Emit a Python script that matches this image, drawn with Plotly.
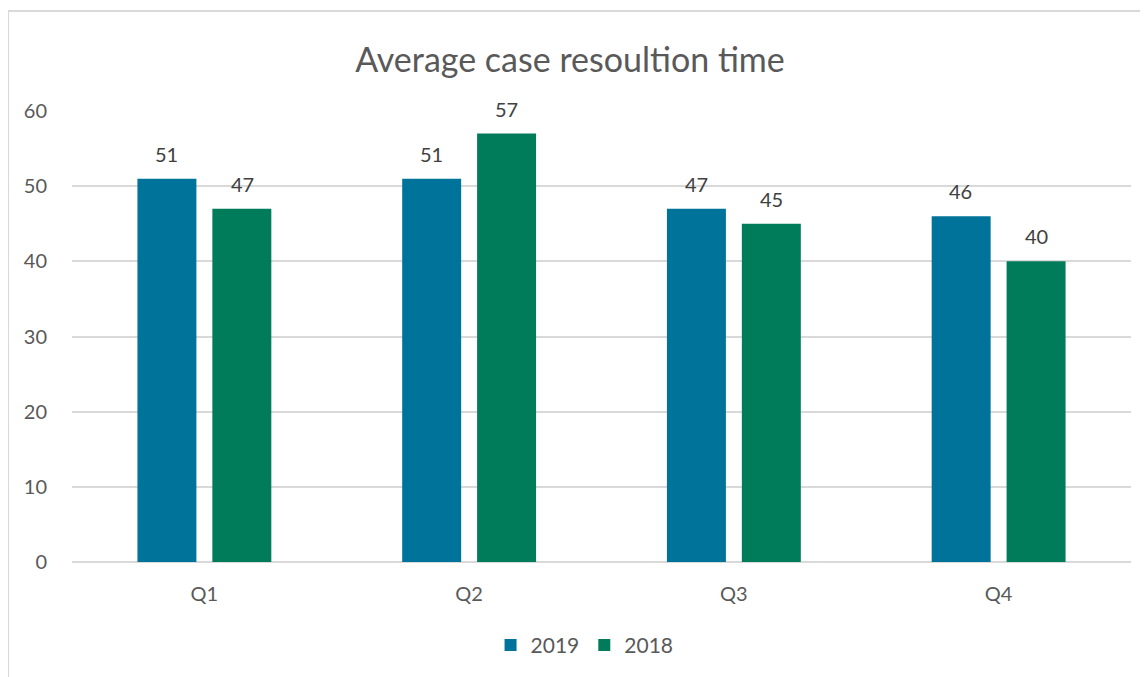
import plotly.graph_objects as go

# ─── Data ─────────────────────────────────────────────────────────────────────

QUARTERS = ["Q1", "Q2", "Q3", "Q4"]
VALUES_2019 = [51, 51, 47, 46]
VALUES_2018 = [47, 57, 45, 40]
Y_TICKS = [0, 10, 20, 30, 40, 50, 60]

COLORS = {
    "2019": "#00739A",
    "2018": "#007C5A",
    "text": "#595959",
    "label": "#404040",
    "grid": "#D9D9D9",
    "border": "#D9D9D9",
}

FONT = "Lato, 'Open Sans', sans-serif"

# horizontal offset of each bar inside its group, in category units
SERIES = [("2019", VALUES_2019, -0.1425), ("2018", VALUES_2018, 0.1425)]

fig = go.Figure()

for name, vals, _ in SERIES:
    fig.add_trace(go.Bar(
        x=QUARTERS, y=vals, name=name,
        marker_color=COLORS[name], marker_line_width=0,
    ))

# data labels, lifted a bit above the bars like the Excel original
for name, vals, shift in SERIES:
    for i, v in enumerate(vals):
        fig.add_annotation(
            x=i + shift, y=v, xref="x", yref="y", text=str(v),
            showarrow=False, yanchor="bottom", yshift=11,
            font=dict(size=20, color=COLORS["label"], family=FONT),
        )

# chart border (clipped by the screenshot on the right and bottom)
fig.add_shape(type="rect", xref="paper", yref="paper",
              x0=-0.0604, x1=1.2, y0=-0.6, y1=1.2217,
              line=dict(color=COLORS["border"], width=2), layer="below")

fig.update_layout(
    width=1148, height=677,
    paper_bgcolor="white", plot_bgcolor="white",
    font=dict(family=FONT, color=COLORS["text"], size=20),
    title=dict(text="Average case resoultion time", x=0.4895, xanchor="center",
               y=0.923, yanchor="middle",
               font=dict(size=34, color=COLORS["text"], family=FONT)),
    barmode="group", bargap=0.434, bargroupgap=0.213,
    showlegend=True,
    legend=dict(orientation="h", x=0.484, xanchor="center", y=-0.185, yanchor="middle",
                font=dict(size=21, color=COLORS["text"]),
                itemwidth=30, traceorder="normal"),
    margin=dict(l=64, r=25, t=103, b=123),
)

fig.update_xaxes(showgrid=False, showline=False, ticks="", ticklabelstandoff=18,
                 tickfont=dict(size=20, color=COLORS["text"]))
fig.update_yaxes(range=[0, 60], tickvals=Y_TICKS, showgrid=True,
                 gridcolor=COLORS["grid"], gridwidth=2, zeroline=True,
                 zerolinecolor=COLORS["grid"], zerolinewidth=2,
                 ticks="", ticklabelstandoff=24,
                 tickfont=dict(size=20, color=COLORS["text"]))

fig.write_html("out.html")
